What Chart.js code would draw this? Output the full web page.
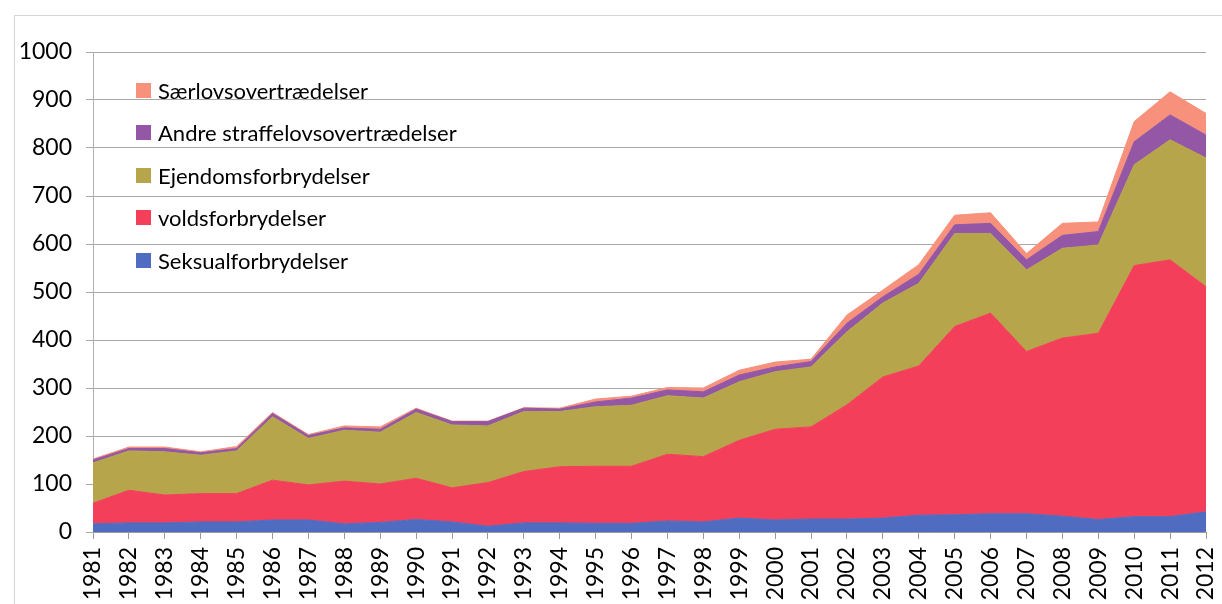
<!DOCTYPE html>
<html lang="da">
<head>
<meta charset="UTF-8">
<title>Anmeldte forbrydelser 1981-2012</title>
<script src="https://cdn.jsdelivr.net/npm/chart.js"></script>
<style>
  body { margin: 0; background: #fff; font-family: Lato, sans-serif; }
  .wrap { position: relative; width: 1222px; height: 604px; overflow: hidden; }
  .frame { position: absolute; left: 14px; top: 15px; width: 1220px; height: 600px;
           border-left: 1px solid #d4d4d4; border-top: 1px solid #d4d4d4; }
  #legend { position: absolute; left: 136px; top: 69px; }
  .item { display: flex; align-items: center; height: 42.5px; font-size: 22px; color: #000; }
  .box { width: 15px; height: 15px; margin-right: 7px; }
</style>
</head>
<body>
<div class="wrap">
  <div class="frame"></div>
  <canvas id="chart" width="1222" height="604"></canvas>
  <div id="legend"></div>
</div>
<script>
// years on the x axis
const years = ['1981','1982','1983','1984','1985','1986','1987','1988','1989','1990',
  '1991','1992','1993','1994','1995','1996','1997','1998','1999','2000',
  '2001','2002','2003','2004','2005','2006','2007','2008','2009','2010','2011','2012'];

// values per series
const seksual = [17,19,19,21,21,25,25,17,20,26,21,12,19,19,18,18,23,21,29,25,27,27,29,35,36,38,38,33,26,32,32,42];
const volds   = [43,68,58,59,59,83,73,89,80,86,71,91,107,117,119,119,139,136,162,189,192,238,294,311,392,418,338,371,388,523,535,469];
const ejendom = [84,82,90,80,89,132,97,106,108,137,131,118,125,115,124,127,122,122,122,120,125,152,154,172,194,166,170,187,184,210,250,268];
const andre   = [6,5,7,5,5,7,6,5,6,7,7,9,7,5,10,15,12,13,14,10,11,18,13,19,18,21,21,27,28,48,52,48];
const saerlov = [2,3,3,2,4,2,2,4,5,2,1,1,1,2,6,4,5,8,10,10,5,17,14,20,20,22,13,25,20,42,48,45];

const yTicks = [0,100,200,300,400,500,600,700,800,900,1000];

const series = [
  { label: 'Seksualforbrydelser', data: seksual, color: '#4f6cc0' },
  { label: 'voldsforbrydelser', data: volds, color: '#f43f5a' },
  { label: 'Ejendomsforbrydelser', data: ejendom, color: '#b6a54a' },
  { label: 'Andre straffelovsovertrædelser', data: andre, color: '#9357a6' },
  { label: 'Særlovsovertrædelser', data: saerlov, color: '#f7917b' }
];

const ctx = document.getElementById('chart').getContext('2d');
new Chart(ctx, {
  type: 'line',
  data: {
    labels: years,
    datasets: series.map((s, i) => ({
      label: s.label,
      data: s.data,
      backgroundColor: s.color,
      borderColor: s.color,
      borderWidth: 1,
      pointRadius: 0,
      tension: 0,
      fill: i === 0 ? 'origin' : '-1'
    }))
  },
  options: {
    responsive: false,
    animation: false,
    layout: { padding: { left: 0, right: 0, top: 52, bottom: 0 } },
    plugins: { legend: { display: false }, tooltip: { enabled: false } },
    scales: {
      x: {
        offset: false,
        grid: { display: true, drawOnChartArea: false, drawTicks: true, tickLength: 7, color: '#9a9a9a' },
        border: { display: true, color: '#9a9a9a' },
        ticks: {
          autoSkip: false, minRotation: 90, maxRotation: 90, padding: 8,
          color: '#000', font: { family: 'Lato', size: 23 }
        },
        // keep the plot running close to the right edge, as in the original
        afterFit: s => { s.height = 72; s.paddingRight = 16; }
      },
      y: {
        stacked: true,
        min: 0, max: 1000,
        afterBuildTicks: s => { s.ticks = yTicks.map(v => ({ value: v })); },
        grid: { color: '#a8a8a8', tickLength: 7 },
        border: { display: true, color: '#b0b0b0' },
        ticks: { padding: 14, color: '#000', font: { family: 'Lato', size: 23 }, callback: v => String(v) },
        afterFit: s => { s.width = 93; }
      }
    }
  }
});

// legend drawn in the reverse order, inside the plot
const legend = document.getElementById('legend');
series.slice().reverse().forEach(s => {
  const row = document.createElement('div');
  row.className = 'item';
  row.innerHTML = '<span class="box" style="background:' + s.color + '"></span>' + s.label;
  legend.appendChild(row);
});
</script>
</body>
</html>
